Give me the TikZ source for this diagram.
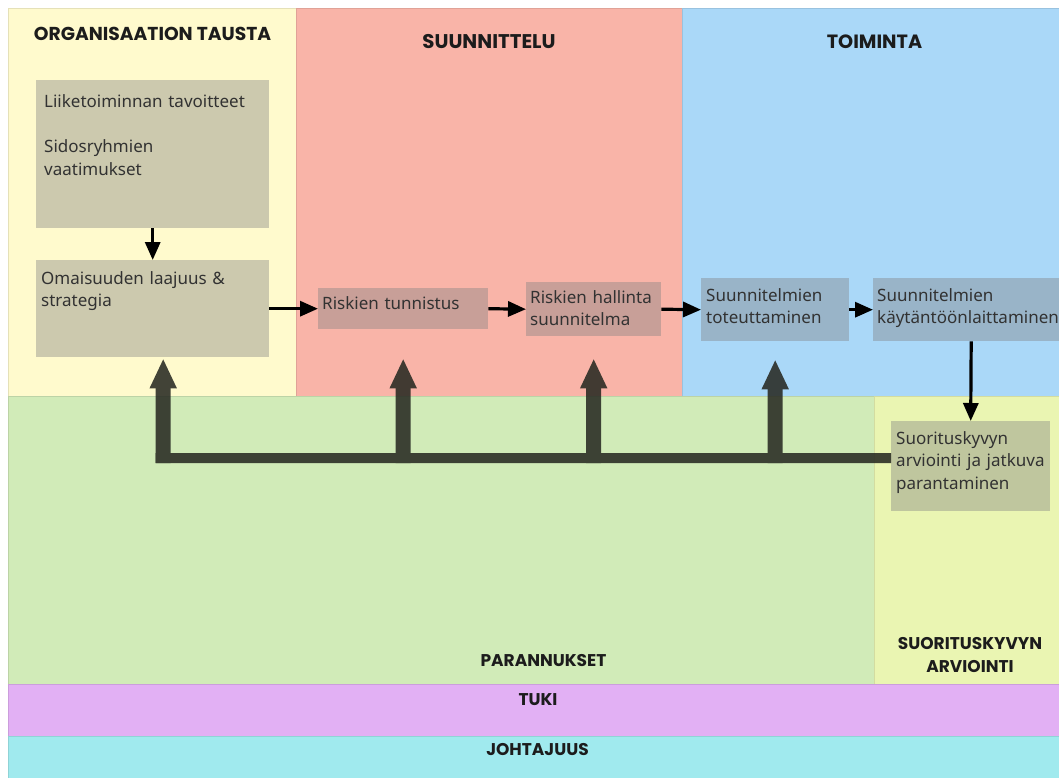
\documentclass[tikz,border=0pt]{standalone}
\usepackage{fontspec}
\setmainfont{Noto Sans}
\newfontfamily\hdrfont{Poppins}
\usetikzlibrary{arrows.meta}

\definecolor{orgYellow}{RGB}{255,250,205}
\definecolor{planPink}{RGB}{249,180,168}
\definecolor{opsBlue}{RGB}{170,216,248}
\definecolor{impGreen}{RGB}{209,235,184}
\definecolor{evalLime}{RGB}{234,245,178}
\definecolor{supViolet}{RGB}{226,176,244}
\definecolor{leadCyan}{RGB}{160,234,238}
\definecolor{bodyText}{RGB}{50,50,50}
\definecolor{headText}{RGB}{28,28,28}
\definecolor{trunkCol}{RGB}{38,40,33}

\begin{document}
\begin{tikzpicture}[x=1pt,y=-1pt,
  region/.style={fill=#1, draw=#1!90!black, line width=0.6pt},
  box/.style={fill=gray, fill opacity=0.4, draw=none, inner sep=0pt, anchor=north west},
  body/.style={font=\fontsize{17}{22.5}\selectfont, text=bodyText, inner sep=0pt,
               anchor=base west, align=left},
  head/.style={font=\hdrfont\bfseries\fontsize{17}{23}\selectfont, text=headText,
               inner sep=0pt, anchor=base},
  bighead/.style={head, font=\hdrfont\bfseries\fontsize{#1}{23}\selectfont},
  flow/.style={-{Triangle[width=15pt,length=18pt]}, line width=3.2pt, black},
  trunk/.style={line width=10pt, trunkCol},
  feedback/.style={-{Triangle[width=25pt,length=30pt]}, line width=15pt, trunkCol}]

\clip (0,0) rectangle (1059,778);
\fill[white] (0,0) rectangle (1059,778);

% swim-lane background
\fill[region=orgYellow] (8,8) rectangle (296,396);
\fill[region=planPink]  (296,8) rectangle (682,396);
\fill[region=opsBlue]   (682,8) rectangle (1075,396);
\fill[region=impGreen]  (8,396) rectangle (874,684);
\fill[region=evalLime]  (874,396) rectangle (1075,684);
\fill[region=supViolet] (8,684) rectangle (1075,736);
\fill[region=leadCyan]  (8,736) rectangle (1075,790);

% lane titles
\node[bighead=18.7] (hOrg)  at (152.5,41) {ORGANISAATION TAUSTA};
\node[bighead=19.8] (hSuun) at (489,48.5) {SUUNNITTELU};
\node[bighead=19.2] (hToim) at (874.5,48.5) {TOIMINTA};
\node[head] (hPar)  at (543.5,666) {PARANNUKSET};
\node[head, text width=190pt, align=center] (hSuor) at (970,649) {SUORITUSKYVYN\\ARVIOINTI};
\node[head] (hTuki) at (538,705) {TUKI};
\node[head] (hJoht) at (537.5,755) {JOHTAJUUS};

% process boxes
\node[box, minimum width=233pt, minimum height=148pt] (liike) at (36,80) {};
\node[box, minimum width=233pt, minimum height=97pt]  (omai)  at (36,260) {};
\node[box, minimum width=170pt, minimum height=41pt]  (tunn)  at (318,288) {};
\node[box, minimum width=135pt, minimum height=54pt]  (hall)  at (526,282) {};
\node[box, minimum width=148pt, minimum height=63pt]  (tote)  at (701,278) {};
\node[box, minimum width=196pt, minimum height=63pt]  (kayt)  at (873,278) {};
\node[box, minimum width=159pt, minimum height=90pt]  (suor)  at (891,421) {};

% box texts
\node[body, text width=230pt] (tLiike) at (44,108)
  {Liiketoiminnan tavoitteet\\[22.5pt]Sidosryhmien\\vaatimukset};
\node[body, text width=225pt] (tOmai) at (41,284) {Omaisuuden laajuus \&\\strategia};
\node[body, text width=165pt] (tTunn) at (322,309) {Riskien tunnistus};
\node[body, text width=130pt] (tHall) at (530,303) {Riskien hallinta\\suunnitelma};
\node[body, text width=145pt] (tTote) at (706,301) {Suunnitelmien\\toteuttaminen};
\node[body, text width=200pt] (tKayt) at (877,301) {Suunnitelmien\\käytäntöönlaittaminen};
\node[body, text width=170pt] (tSuor) at (896,444) {Suorituskyvyn\\arviointi ja jatkuva\\parantaminen};

% main flow
\draw[flow] (liike.south) -- (omai.north);
\draw[flow] (omai.east) -- (tunn.west);
\draw[flow] (tunn.east) -- (hall.west);
\draw[flow] (hall.east) -- (tote.west);
\draw[flow] (tote.east) -- (kayt.west);
\draw[flow] (kayt.south) -- (suor.north);

% improvement feedback
\coordinate (trunkR) at ([yshift=8pt]suor.west);
\coordinate (fb) at ([yshift=-5pt]trunkR);
\coordinate (omaiFoot) at ([xshift=10.5pt]omai.south);
\begin{scope}[transparency group, opacity=0.87]
  \draw[trunk] (trunkR) -- ([xshift=-7.5pt]omaiFoot |- trunkR);
  \draw[feedback, shorten >=1pt]  (omaiFoot |- fb) -- (omaiFoot);
  \draw[feedback, shorten >=29pt] (tunn.south |- fb) -- (tunn.south);
  \draw[feedback, shorten >=22pt] (hall.south |- fb) -- (hall.south);
  \draw[feedback, shorten >=18pt] (tote.south |- fb) -- (tote.south);
\end{scope}
\end{tikzpicture}
\end{document}
